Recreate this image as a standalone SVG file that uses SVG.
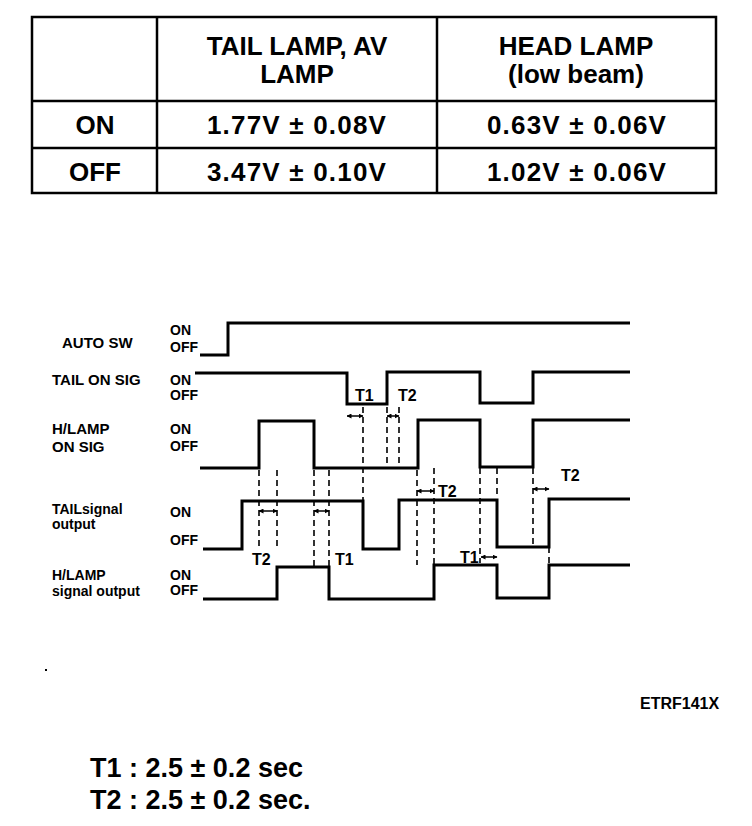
<svg xmlns="http://www.w3.org/2000/svg" width="752" height="826" viewBox="0 0 752 826">
<style>
text{font-family:"Liberation Sans",Arial,sans-serif;font-weight:bold;fill:#000}
.tb{font-size:26px;text-anchor:middle}
.val{font-size:26px;text-anchor:middle;letter-spacing:1.2px}
.grid{fill:none;stroke:#000;stroke-width:2.5}
.lbl{font-size:15px}
.lbs{font-size:14px}
.st{font-size:14px}
.tl{font-size:16px}
.sig{fill:none;stroke:#000;stroke-width:3;stroke-linejoin:miter}
.dash{fill:none;stroke:#000;stroke-width:1.6;stroke-dasharray:6,4}
.arr{fill:none;stroke:#000;stroke-width:1.5;marker-start:url(#ah);marker-end:url(#ah)}
.note{font-size:27px}
</style>
<defs>
<marker id="ah" viewBox="0 0 10 10" refX="9" refY="5" markerWidth="5" markerHeight="5" markerUnits="userSpaceOnUse" orient="auto-start-reverse">
<path d="M0,0 L10,5 L0,10 Z" fill="#000"/>
</marker>
</defs>
<rect width="752" height="826" fill="#fff"/>

<g id="table">
<rect class="grid" x="32" y="17" width="684" height="176"/>
<line class="grid" x1="157" y1="17" x2="157" y2="193"/>
<line class="grid" x1="437" y1="17" x2="437" y2="193"/>
<line class="grid" x1="32" y1="101" x2="716" y2="101"/>
<line class="grid" x1="32" y1="148" x2="716" y2="148"/>
<text class="tb" x="297" y="55">TAIL LAMP, AV</text>
<text class="tb" x="297" y="83">LAMP</text>
<text class="tb" x="576" y="55">HEAD LAMP</text>
<text class="tb" x="576" y="83">(low beam)</text>
<text class="tb" x="95" y="134">ON</text>
<text class="tb" x="95" y="181">OFF</text>
<text class="val" x="297" y="134">1.77V ± 0.08V</text>
<text class="val" x="577" y="134">0.63V ± 0.06V</text>
<text class="val" x="297" y="181">3.47V ± 0.10V</text>
<text class="val" x="577" y="181">1.02V ± 0.06V</text>
</g>

<g id="auto-sw">
<text class="lbl" x="62" y="348">AUTO SW</text>
<text class="st" x="170" y="335">ON</text>
<text class="st" x="170" y="352">OFF</text>
<path class="sig" d="M200,355 H228 V323 H630"/>
</g>

<g id="tail-on-sig">
<text class="lbl" x="52" y="385">TAIL ON SIG</text>
<text class="st" x="170" y="385">ON</text>
<text class="st" x="170" y="400">OFF</text>
<path class="sig" d="M195,373 H347 V404 H387 V372 H480 V403 H533 V372 H630"/>
</g>

<g id="hlamp-on-sig">
<text class="lbl" x="52" y="434">H/LAMP</text>
<text class="lbl" x="52" y="452">ON SIG</text>
<text class="st" x="170" y="434">ON</text>
<text class="st" x="170" y="451">OFF</text>
<path class="sig" d="M200,468 H259 V421 H314 V468 H418 V420 H480 V467 H533 V420 H630"/>
</g>

<g id="tail-signal-output">
<text class="lbs" x="52" y="514">TAILsignal</text>
<text class="lbs" x="52" y="529">output</text>
<text class="st" x="170" y="517">ON</text>
<text class="st" x="170" y="545">OFF</text>
<path class="sig" d="M203,549 H242 V501 H363 V549 H399 V500 H497 V547 H549 V499 H630"/>
</g>

<g id="hlamp-signal-output">
<text class="lbs" x="52" y="580">H/LAMP</text>
<text class="lbs" x="52" y="596">signal output</text>
<text class="st" x="170" y="580">ON</text>
<text class="st" x="170" y="595">OFF</text>
<path class="sig" d="M203,599 H277 V567 H329 V599 H434 V565 H497 V598 H549 V565 H630"/>
</g>

<g id="connectors">
<line class="dash" x1="363" y1="407" x2="363" y2="500"/>
<line class="dash" x1="387" y1="407" x2="387" y2="467"/>
<line class="dash" x1="399" y1="407" x2="399" y2="467"/>
<line class="dash" x1="259" y1="470" x2="259" y2="550"/>
<line class="dash" x1="277" y1="470" x2="277" y2="550"/>
<line class="dash" x1="314" y1="470" x2="314" y2="567"/>
<line class="dash" x1="329" y1="470" x2="329" y2="567"/>
<line class="dash" x1="417" y1="470" x2="417" y2="565"/>
<line class="dash" x1="434" y1="468" x2="434" y2="565"/>
<line class="dash" x1="480" y1="468" x2="480" y2="563"/>
<line class="dash" x1="497" y1="468" x2="497" y2="498"/>
<line class="dash" x1="533" y1="468" x2="533" y2="547"/>
<line class="dash" x1="549" y1="547" x2="549" y2="565"/>
<line class="arr" x1="347" y1="416" x2="363" y2="416"/>
<line class="arr" x1="387" y1="416" x2="399" y2="416"/>
<line class="arr" x1="259" y1="511" x2="277" y2="511"/>
<line class="arr" x1="314" y1="511" x2="329" y2="511"/>
<line class="arr" x1="417" y1="491" x2="434" y2="491"/>
<line class="arr" x1="481" y1="557" x2="497" y2="557"/>
<line class="arr" x1="533" y1="489" x2="549" y2="489"/>
</g>

<g id="time-labels">
<text class="tl" x="355" y="401">T1</text>
<text class="tl" x="398" y="401">T2</text>
<text class="tl" x="252" y="565">T2</text>
<text class="tl" x="335" y="565">T1</text>
<text class="tl" x="438" y="497">T2</text>
<text class="tl" x="460" y="563">T1</text>
<text class="tl" x="561" y="481">T2</text>
</g>

<rect x="45" y="669" width="2" height="2" fill="#000"/>
<text x="640" y="709" style="font-size:16px">ETRF141X</text>
<text class="note" x="90" y="777">T1 : 2.5 ± 0.2 sec</text>
<text class="note" x="90" y="809">T2 : 2.5 ± 0.2 sec.</text>
</svg>
